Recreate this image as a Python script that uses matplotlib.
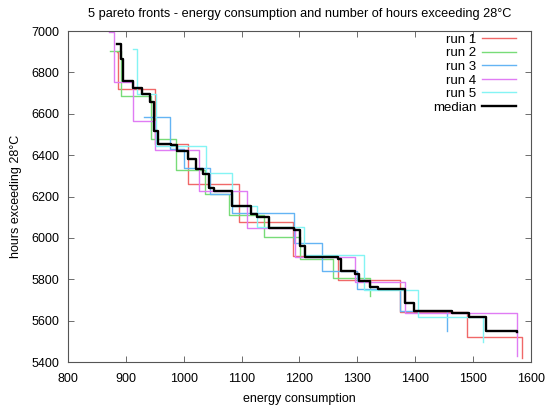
import matplotlib
matplotlib.use("Agg")
import matplotlib.pyplot as plt

plt.rcParams['font.family'] = ['Liberation Sans', 'DejaVu Sans']

# pareto fronts (energy, hours)
run1_energy = [885, 887, 950, 1008, 1095, 1188, 1267, 1373, 1489, 1584]
run1_hours = [6900, 6722, 6456, 6260, 6075, 5912, 5796, 5643, 5519, 5418]

run2_energy = [872, 892, 943, 987, 1036, 1079, 1139, 1201, 1258, 1322]
run2_hours = [6902, 6685, 6478, 6326, 6210, 6113, 6006, 5896, 5804, 5719]

run3_energy = [931, 976, 1001, 1045, 1083, 1191, 1239, 1299, 1373, 1455]
run3_hours = [6582, 6430, 6336, 6210, 6120, 5975, 5840, 5752, 5646, 5551]

run4_energy = [870, 879, 913, 950, 1027, 1110, 1192, 1296, 1382, 1576]
run4_hours = [6993, 6755, 6564, 6424, 6228, 6046, 5906, 5786, 5635, 5429]

run5_energy = [912, 919, 952, 1038, 1083, 1126, 1208, 1311, 1405, 1517]
run5_hours = [6914, 6695, 6443, 6312, 6154, 6051, 5917, 5750, 5619, 5498]

median_energy = [885, 892, 895.5, 913, 928, 942, 949, 955, 978, 989, 1008, 1021,
                 1034, 1044, 1052.5, 1083, 1115.5, 1126, 1147.5, 1190.5, 1201, 1209,
                 1267, 1271, 1296, 1303, 1322, 1335, 1382, 1398, 1463, 1493, 1523, 1576]
median_hours = [6935, 6864, 6759, 6724, 6696, 6656, 6519, 6456, 6448, 6421, 6379, 6332,
                6308, 6239, 6228, 6156, 6116, 6102, 6050, 6038, 5960, 5906,
                5896, 5838, 5826, 5793, 5761, 5752, 5686, 5646, 5635, 5619, 5551, 5545]

runs = [
    ("run 1", run1_energy, run1_hours, "#f06868"),
    ("run 2", run2_energy, run2_hours, "#78dc78"),
    ("run 3", run3_energy, run3_hours, "#64b4f4"),
    ("run 4", run4_energy, run4_hours, "#e07cf4"),
    ("run 5", run5_energy, run5_hours, "#84f4f4"),
]

fig = plt.figure(figsize=(5.47, 4.08), dpi=100)
ax = fig.add_axes([0.1243, 0.1127, 0.8464, 0.8113])

for label, e, h, c in runs:
    ax.step(e, h, where='post', color=c, linewidth=1.0, label=label)

ax.step(median_energy, median_hours, where='post', color='black', linewidth=1.7, label='median')

ax.set_xlim(800, 1600)
ax.set_ylim(5400, 7000)
ax.set_xticks(range(800, 1601, 100))
ax.set_yticks(range(5400, 7001, 200))
ax.tick_params(direction='in', top=True, right=True, length=4, width=0.6,
               color='#555555', labelsize=9, pad=6)
ax.tick_params(axis='x', pad=8)
for s in ax.spines.values():
    s.set_color('#555555')
    s.set_linewidth(0.8)

ax.set_xlabel("energy consumption", fontsize=9, labelpad=6)
ax.set_ylabel("hours exceeding 28°C", fontsize=9, labelpad=7)
ax.set_title("5 pareto fronts - energy consumption and number of hours exceeding 28°C",
             fontsize=9.2, pad=10)

ax.legend(loc='upper right', bbox_to_anchor=(0.985, 1.016), frameon=False, markerfirst=False,
          fontsize=9.5, handlelength=2.6, handletextpad=0.4, labelspacing=0.1,
          borderaxespad=0.2)

fig.savefig("out.png", dpi=100)
